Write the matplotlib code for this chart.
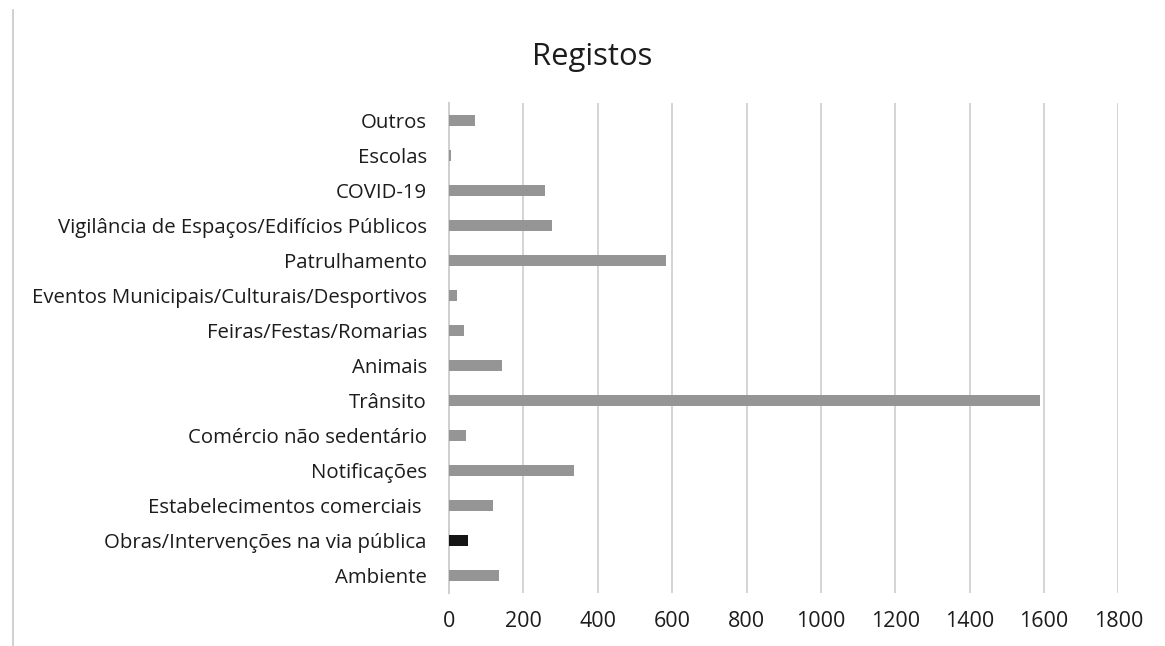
import matplotlib
matplotlib.use("Agg")
import matplotlib.pyplot as plt
from matplotlib.lines import Line2D

categories = [
    "Ambiente",
    "Obras/Intervenções na via pública",
    "Estabelecimentos comerciais ",
    "Notificações",
    "Comércio não sedentário",
    "Trânsito",
    "Animais",
    "Feiras/Festas/Romarias",
    "Eventos Municipais/Culturais/Desportivos",
    "Patrulhamento",
    "Vigilância de Espaços/Edifícios Públicos",
    "COVID-19",
    "Escolas",
    "Outros",
]
values = [134, 51, 117, 336, 47, 1589, 143, 40, 22, 583, 278, 258, 5, 70]
bar_colors = ["#959595", "#151515"] + ["#959595"] * 12
x_ticks = [0, 200, 400, 600, 800, 1000, 1200, 1400, 1600, 1800]

plt.rcParams["font.family"] = ["Open Sans", "DejaVu Sans"]

fig = plt.figure(figsize=(11.65, 6.46), dpi=100)
ax = fig.add_axes([0.3854, 0.082, 0.5746, 0.7586])

ypos = list(range(len(categories)))
ax.barh(ypos, values, height=0.33, color=bar_colors, zorder=3)

ax.set_xlim(0, 1800)
ax.set_ylim(-0.5, len(categories) - 0.5)
ax.set_xticks(x_ticks)
ax.set_xticklabels([str(t) for t in x_ticks])
ax.set_yticks(ypos)
ax.set_yticklabels(categories)

ax.grid(axis="x", color="#d4d4d4", linewidth=1.4, zorder=0)
ax.grid(axis="y", visible=False)
for side in ["top", "right", "bottom"]:
    ax.spines[side].set_visible(False)
ax.spines["left"].set_color("#cfcfcf")
ax.spines["left"].set_linewidth(1.4)

ax.tick_params(axis="both", length=0, colors="#1c1c1c")
ax.tick_params(axis="y", pad=16, labelsize=14.7)
ax.tick_params(axis="x", pad=13, labelsize=15.5)

fig.text(0.508, 0.912, "Registos", ha="center", va="center",
         fontsize=22.3, color="#1c1c1c")

# thin frame edge on the left side of the chart area
fig.add_artist(Line2D([0.011, 0.011], [0.0, 0.985], transform=fig.transFigure,
                      color="#c8c8c8", linewidth=1.2))

fig.savefig("out.png", dpi=100, facecolor="white")
